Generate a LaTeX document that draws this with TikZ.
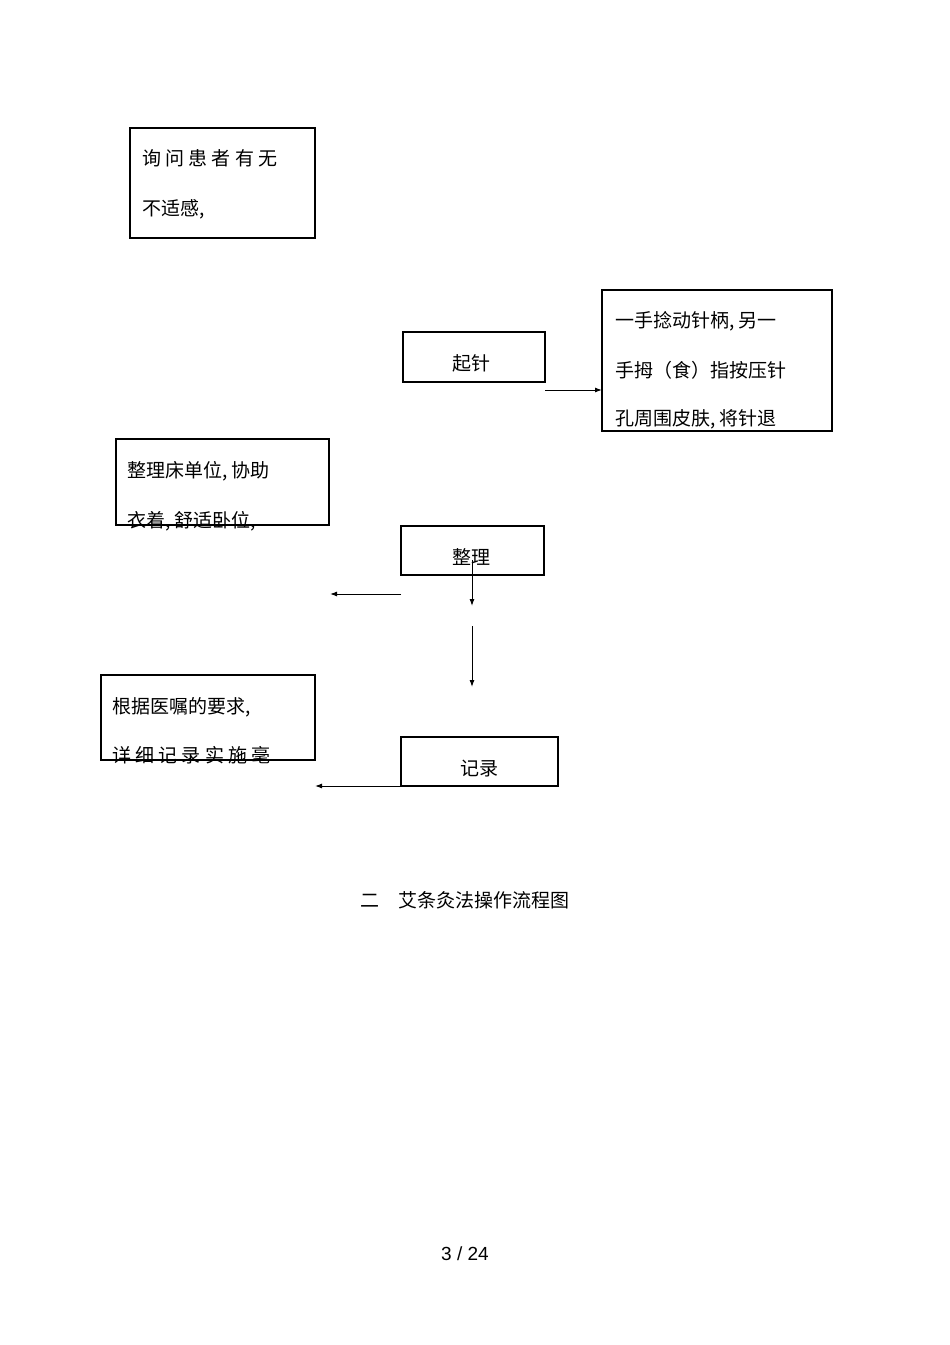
\documentclass[tikz,border=0pt]{standalone}
\usepackage{fontspec}
\setmainfont{Liberation Sans}
\newfontfamily\cjk{Noto Sans CJK SC}
\usetikzlibrary{arrows.meta}
\begin{document}
\begin{tikzpicture}[x=1pt,y=-1pt,
  bx/.style={draw,line width=1.3pt},
  txt/.style={font=\cjk\fontsize{19}{19}\selectfont,anchor=base west,inner sep=0pt},
  ctxt/.style={font=\cjk\fontsize{19}{19}\selectfont,anchor=base,inner sep=0pt},
  arr/.style={-{Latex[length=7pt,width=5pt]},line width=1pt}]
\useasboundingbox[fill=white] (0,0) rectangle (950,1345);
\draw[bx] (130,128) rectangle (315,238);
\node[txt] (a1) at (142,165) {询 问 患 者 有 无};
\node[txt] (a2) at (142,215) {不适感,};
\draw[bx] (403,332) rectangle (545,382);
\node[ctxt] (qz) at (471,370) {起针};
\draw[bx] (602,290) rectangle (832,431);
\node[txt] (b1) at (615,327) {一手捻动针柄,\ 另一};
\node[txt] (b2) at (615,377) {手拇（食）指按压针};
\node[txt] (b3) at (615,425) {孔周围皮肤,\ 将针退};
\coordinate (q1) at (545,390); \coordinate (q2) at (602,390);
\draw[arr] (q1) -- (q2);
\draw[bx] (116,439) rectangle (329,525);
\node[txt] (c1) at (127,477) {整理床单位,\ 协助};
\node[txt] (c2) at (127,527) {衣着,\ 舒适卧位,};
\draw[bx] (401,526) rectangle (544,575);
\node[ctxt] (zl) at (471,564) {整理};
\coordinate (z1) at (401,594); \coordinate (z2) at (330,594);
\draw[arr] (z1) -- (z2);
\coordinate (d1) at (472,560); \coordinate (d2) at (472,606);
\draw[arr] (d1) -- (d2);
\coordinate (d3) at (472,626); \coordinate (d4) at (472,687);
\draw[arr] (d3) -- (d4);
\draw[bx] (101,675) rectangle (315,760);
\node[txt] (e1) at (112,713) {根据医嘱的要求,};
\node[txt] (e2) at (112,762) {详 细 记 录 实 施 毫};
\draw[bx] (401,737) rectangle (558,786);
\node[ctxt] (jl) at (479,775) {记录};
\coordinate (j1) at (401,786); \coordinate (j2) at (315,786);
\draw[arr] (j1) -- (j2);
\node[ctxt] (t) at (465,907) {二\quad 艾条灸法操作流程图};
\node[anchor=base,inner sep=0pt,font=\fontsize{19}{19}\selectfont] (p) at (465,1260) {3 / 24};
\end{tikzpicture}
\end{document}
